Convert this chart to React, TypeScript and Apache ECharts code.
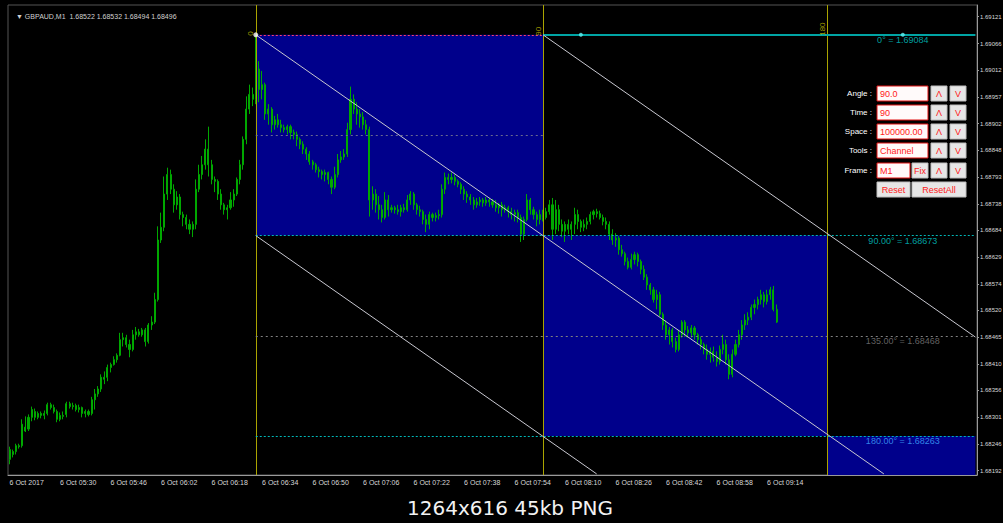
import React, { useEffect, useRef } from "react";
import * as echarts from "echarts";

// ---------- data ----------
const chartTitle = "\u25BC GBPAUD,M1  1.68522 1.68532 1.68494 1.68496";
const footerText = "1264x616 45kb PNG";

// x axis: one slot per M1 bar (including empty future slots)
const SLOT_COUNT = 307;
const LABEL_EVERY = 16;
const timeLabels = [
  "6 Oct 2017", "6 Oct 05:30", "6 Oct 05:46", "6 Oct 06:02", "6 Oct 06:18", "6 Oct 06:34",
  "6 Oct 06:50", "6 Oct 07:06", "6 Oct 07:22", "6 Oct 07:38", "6 Oct 07:54", "6 Oct 08:10",
  "6 Oct 08:26", "6 Oct 08:42", "6 Oct 08:58", "6 Oct 09:14",
];

// price axis
const Y_MIN = 1.68183;
const Y_MAX = 1.69145;
const priceTicks = [
  1.69121, 1.69066, 1.69012, 1.68957, 1.68902, 1.68848, 1.68793, 1.68738, 1.68684,
  1.68629, 1.68574, 1.6852, 1.68465, 1.6841, 1.68356, 1.68301, 1.68246, 1.68192,
];

// bars: [open, close, low, high]
const ohlc: number[][] = [
  [1.68215,1.68235,1.68205,1.68241],[1.68231,1.68225,1.68219,1.68235],[1.68231,1.68243,1.68225,1.68247],[1.68243,1.68241,1.68237,1.68247],
  [1.68243,1.68287,1.68239,1.68297],[1.68281,1.68273,1.68271,1.68303],[1.68277,1.68301,1.68273,1.68307],[1.68301,1.68317,1.68293,1.68323],
  [1.68313,1.68301,1.68295,1.68319],[1.68301,1.68309,1.68297,1.68313],[1.68309,1.68305,1.68299,1.68313],[1.68305,1.68309,1.68297,1.68315],
  [1.68309,1.68327,1.68305,1.68331],[1.68327,1.68321,1.68317,1.68331],[1.68321,1.68313,1.68309,1.68327],[1.68313,1.68297,1.68291,1.68317],
  [1.68297,1.68305,1.68293,1.68311],[1.68305,1.68303,1.68297,1.68313],[1.68307,1.68329,1.68301,1.68333],[1.68329,1.68323,1.68319,1.68333],
  [1.68323,1.68325,1.68317,1.68331],[1.68325,1.68317,1.68313,1.68329],[1.68317,1.68321,1.68311,1.68327],[1.68321,1.68309,1.68301,1.68323],
  [1.68309,1.68313,1.68301,1.68317],[1.68313,1.68307,1.68303,1.68317],[1.68309,1.68337,1.68305,1.68343],[1.68337,1.68349,1.68317,1.68359],
  [1.68349,1.68359,1.68343,1.68365],[1.68359,1.68383,1.68353,1.68389],[1.68383,1.68379,1.68369,1.68395],[1.68383,1.68403,1.68375,1.68409],
  [1.68403,1.68409,1.68393,1.68413],[1.68409,1.68419,1.68407,1.68426],[1.68419,1.68428,1.68413,1.68432],[1.68428,1.6846,1.68426,1.68474],
  [1.6846,1.68464,1.68446,1.68474],[1.68464,1.6845,1.68444,1.6847],[1.6845,1.6844,1.68424,1.6846],[1.6844,1.6847,1.68436,1.6848],
  [1.6847,1.68476,1.6846,1.68486],[1.68476,1.6847,1.68466,1.68482],[1.6847,1.6848,1.68466,1.68484],[1.6848,1.68456,1.68446,1.68484],
  [1.68456,1.6849,1.68452,1.68494],[1.6849,1.68496,1.6848,1.68508],[1.68496,1.68542,1.68492,1.68556],[1.68542,1.68664,1.68538,1.68692],
  [1.68664,1.6869,1.68658,1.6872],[1.6869,1.68758,1.68682,1.68794],[1.68758,1.68798,1.68746,1.68812],[1.68798,1.68768,1.68758,1.68808],
  [1.68768,1.68736,1.6872,1.68778],[1.68736,1.68752,1.68726,1.68764],[1.68752,1.68716,1.68706,1.68758],[1.68716,1.6871,1.68692,1.68722],
  [1.6871,1.68696,1.68686,1.68716],[1.68696,1.68686,1.68676,1.68706],[1.68686,1.68696,1.6867,1.68702],[1.68696,1.68768,1.68686,1.68788],
  [1.68768,1.68798,1.68762,1.68818],[1.68798,1.68818,1.68788,1.68836],[1.68818,1.6885,1.68808,1.6887],[1.6885,1.68818,1.68794,1.68896],
  [1.68818,1.68788,1.68778,1.68828],[1.68788,1.68784,1.68762,1.68794],[1.68784,1.68758,1.68746,1.68788],[1.68758,1.68736,1.68726,1.68768],
  [1.68736,1.68726,1.68716,1.6874],[1.68726,1.6873,1.68706,1.68736],[1.6873,1.68746,1.68726,1.68762],[1.68746,1.68758,1.68732,1.68768],
  [1.68758,1.68788,1.68754,1.68792],[1.68788,1.68818,1.68778,1.68828],[1.68818,1.6887,1.68808,1.68876],[1.6887,1.68932,1.6886,1.68958],
  [1.68932,1.68962,1.68922,1.68982],[1.68962,1.68952,1.68938,1.68976],[1.68952,1.69014,1.68942,1.69084],[1.69014,1.68972,1.68946,1.6903],
  [1.68972,1.68982,1.68952,1.6901],[1.68982,1.68922,1.6891,1.68986],[1.68922,1.68932,1.689,1.68942],[1.68932,1.689,1.68884,1.68936],
  [1.689,1.6891,1.6889,1.68918],[1.6891,1.689,1.68894,1.68922],[1.689,1.68894,1.68884,1.6891],[1.68894,1.6889,1.68884,1.689],
  [1.6889,1.68896,1.6888,1.689],[1.68896,1.68884,1.6887,1.689],[1.68884,1.6888,1.6887,1.6889],[1.6888,1.6887,1.68856,1.68886],
  [1.6887,1.6886,1.6885,1.68874],[1.6886,1.6885,1.6884,1.68866],[1.6885,1.6884,1.68828,1.68854],[1.6884,1.68824,1.68818,1.68846],
  [1.68824,1.68818,1.68808,1.68828],[1.68818,1.68808,1.68802,1.68822],[1.68808,1.68804,1.68792,1.68814],[1.68804,1.68798,1.68788,1.68808],
  [1.68798,1.68802,1.68784,1.68808],[1.68802,1.68788,1.68778,1.68804],[1.68788,1.68772,1.68758,1.68794],[1.68772,1.68798,1.68768,1.68814],
  [1.68798,1.68828,1.68792,1.6884],[1.68828,1.68834,1.68822,1.68846],[1.68834,1.6884,1.68828,1.6885],[1.6884,1.6889,1.68834,1.68904],
  [1.6889,1.68952,1.6888,1.68978],[1.68952,1.68932,1.68922,1.68962],[1.68932,1.68922,1.689,1.68946],[1.68922,1.68916,1.68894,1.68932],
  [1.68916,1.689,1.6889,1.68926],[1.689,1.6889,1.6888,1.6891],[1.6889,1.68746,1.68712,1.68896],[1.68746,1.68758,1.68726,1.68774],
  [1.68758,1.68736,1.6872,1.68768],[1.68736,1.68726,1.68706,1.68754],[1.68726,1.6871,1.687,1.68736],[1.6871,1.68746,1.68706,1.68762],
  [1.68746,1.68726,1.68712,1.68756],[1.68726,1.6873,1.6872,1.68736],[1.6873,1.68726,1.68718,1.68734],[1.68726,1.68722,1.68716,1.68736],
  [1.68722,1.6873,1.68712,1.68736],[1.6873,1.68726,1.6872,1.68738],[1.68726,1.68746,1.68722,1.68756],[1.68746,1.68758,1.68736,1.68764],
  [1.68758,1.68736,1.68726,1.68762],[1.68736,1.68726,1.68716,1.6874],[1.68726,1.68722,1.68712,1.68734],[1.68722,1.68706,1.68696,1.68726],
  [1.68706,1.68696,1.6868,1.68716],[1.68696,1.68716,1.68686,1.68722],[1.68716,1.6871,1.68702,1.6872],[1.6871,1.68714,1.68702,1.6872],
  [1.68714,1.68716,1.68706,1.68726],[1.68716,1.68768,1.6871,1.68778],[1.68768,1.68792,1.68758,1.68802],[1.68792,1.68788,1.68778,1.688],
  [1.68788,1.68792,1.6878,1.68802],[1.68792,1.68784,1.68776,1.68798],[1.68784,1.68778,1.68772,1.68788],[1.68778,1.68768,1.68758,1.68782],
  [1.68768,1.68758,1.68746,1.68774],[1.68758,1.68752,1.6874,1.68764],[1.68752,1.68746,1.68736,1.68758],[1.68746,1.68736,1.68726,1.68752],
  [1.68736,1.68742,1.6873,1.6875],[1.68742,1.68746,1.68734,1.68752],[1.68746,1.6874,1.68732,1.6875],[1.6874,1.68746,1.68734,1.68752],
  [1.68746,1.68742,1.68732,1.6875],[1.68742,1.68736,1.6873,1.68748],[1.68736,1.6873,1.68722,1.68746],[1.6873,1.68736,1.68718,1.6874],
  [1.68736,1.68726,1.68712,1.68742],[1.68726,1.6873,1.6872,1.68736],[1.6873,1.68722,1.6871,1.68734],[1.68722,1.68716,1.68706,1.6873],
  [1.68716,1.6872,1.68702,1.68726],[1.6872,1.6871,1.687,1.68726],[1.6871,1.68676,1.6866,1.68716],[1.68676,1.68706,1.68664,1.68712],
  [1.68706,1.68746,1.68702,1.68758],[1.68746,1.68726,1.68716,1.6875],[1.68726,1.68716,1.68706,1.68732],[1.68716,1.68706,1.68692,1.68722],
  [1.68706,1.68716,1.68696,1.68726],[1.68716,1.6871,1.68702,1.68726],[1.6871,1.68722,1.68706,1.6873],[1.68722,1.68736,1.68716,1.68746],
  [1.68736,1.68686,1.68664,1.6875],[1.68686,1.68726,1.68676,1.68746],[1.68726,1.68696,1.68682,1.68736],[1.68696,1.68682,1.6867,1.68706],
  [1.68682,1.68696,1.6866,1.68702],[1.68696,1.68686,1.68676,1.68706],[1.68686,1.68696,1.68664,1.68702],[1.68696,1.68716,1.68676,1.6873],
  [1.68716,1.68702,1.68686,1.68726],[1.68702,1.6869,1.6868,1.68706],[1.6869,1.68696,1.68682,1.68706],[1.68696,1.68702,1.68686,1.6871],
  [1.68702,1.68716,1.68696,1.68722],[1.68716,1.68722,1.68706,1.68726],[1.68722,1.68718,1.6871,1.68728],[1.68718,1.6871,1.68706,1.68724],
  [1.6871,1.68702,1.68694,1.68716],[1.68702,1.68696,1.68686,1.6871],[1.68696,1.68676,1.68664,1.68702],[1.68676,1.68664,1.68654,1.68686],
  [1.68664,1.68668,1.6865,1.68678],[1.68668,1.68644,1.68634,1.68672],[1.68644,1.68636,1.6863,1.68654],[1.68636,1.6862,1.68612,1.6864],
  [1.6862,1.68608,1.68604,1.68628],[1.68608,1.68624,1.68604,1.68636],[1.68624,1.68634,1.68614,1.6864],[1.68634,1.6862,1.6861,1.68638],
  [1.6862,1.68604,1.68594,1.68624],[1.68604,1.68588,1.68582,1.68612],[1.68588,1.68572,1.68562,1.68594],[1.68572,1.68562,1.68552,1.68576],
  [1.68562,1.68542,1.68536,1.68568],[1.68542,1.68552,1.68522,1.68562],[1.68552,1.68512,1.68508,1.68558],[1.68512,1.6849,1.6848,1.68516],
  [1.6849,1.6847,1.6846,1.685],[1.6847,1.6848,1.6845,1.68486],[1.6848,1.68456,1.68444,1.68484],[1.68456,1.6844,1.68434,1.68464],
  [1.6844,1.6847,1.68436,1.6848],[1.6847,1.68496,1.68464,1.685],[1.68496,1.6848,1.68466,1.685],[1.6848,1.68474,1.68464,1.68488],
  [1.68474,1.68484,1.68464,1.6849],[1.68484,1.6847,1.6846,1.68488],[1.6847,1.6846,1.6845,1.68474],[1.6846,1.6845,1.6844,1.68466],
  [1.6845,1.6844,1.6843,1.68454],[1.6844,1.6843,1.68419,1.6845],[1.6843,1.68436,1.68413,1.68444],[1.68436,1.68424,1.68415,1.68446],
  [1.68424,1.68415,1.68405,1.68436],[1.68415,1.6844,1.68409,1.68448],[1.6844,1.6845,1.6843,1.6847],[1.6845,1.68419,1.68409,1.6846],
  [1.68419,1.68389,1.68379,1.6843],[1.68389,1.6843,1.68383,1.6844],[1.6843,1.6845,1.68426,1.6846],[1.6845,1.6847,1.68444,1.6848],
  [1.6847,1.6849,1.6846,1.685],[1.6849,1.685,1.6848,1.68512],[1.685,1.68506,1.6849,1.68516],[1.68506,1.68526,1.685,1.68532],
  [1.68526,1.68532,1.68512,1.68542],[1.68532,1.68542,1.68522,1.68548],[1.68542,1.68552,1.68532,1.68562],[1.68552,1.68538,1.68526,1.68558],
  [1.68538,1.68552,1.68532,1.68562],[1.68552,1.68562,1.68542,1.68568],[1.68562,1.68522,1.68518,1.6857],[1.68522,1.68496,1.68494,1.68532],
];

// channel tool: level prices (0°, 45°, 90°, 135°, 180°) and time anchors (bar slots)
const levelPrices = [1.69084, 1.68878, 1.68673, 1.68468, 1.68263];
const levelTexts = ["0\u00B0 = 1.69084", "", "90.00\u00B0 = 1.68673", "135.00\u00B0 = 1.68468", "180.00\u00B0 = 1.68263"];
const timeMarks = [78, 169, 259];
const timeMarkTexts = ["0", "90", "180"];
const LAST_SLOT = SLOT_COUNT - 1;
const levelLabelSlot = 283;
const dotSlots = [181, 283];

// panel
const panelRows = [
  { label: "Angle :", value: "90.0" },
  { label: "Time :", value: "90" },
  { label: "Space :", value: "100000.00" },
  { label: "Tools :", value: "Channel" },
  { label: "Frame :", value: "M1" },
];

// ---------- colours ----------
const C = {
  bg: "#000000",
  bar: "#00a800",
  zone: "#00008b",
  axis: "#9a9a9a",
  axisText: "#d8d8d8",
  yellow: "#aaa400",
  diag: "#c8c8d0",
  cyan: "#00b8b8",
  cyanSolid: "#00a4a4",
  grayDot: "#808080",
  redDot: "#ff4070",
  price: "#a8a8b8",
};

const FONT = "'Liberation Sans', Arial, sans-serif";

function buildOption() {
  const categories = Array.from({ length: SLOT_COUNT }, (_, i) => String(i));
  const P = levelPrices;
  const slope = (P[2] - P[0]) / (timeMarks[1] - timeMarks[0]); // price per bar (negative)
  const mainSteps = Math.floor((P[0] - Y_MIN) / -slope);
  const lowerSteps = Math.floor((P[2] - Y_MIN) / -slope);
  const upperSteps = LAST_SLOT - timeMarks[1];

  const hLine = (price: number, from: number, to: number, color: string, type: any, width = 1) => [
    { coord: [from, price], lineStyle: { color, type, width } },
    { coord: [to, price] },
  ];
  const seg = (x1: number, y1: number, x2: number, y2: number, color: string, type: any = "solid", width = 1) => [
    { coord: [x1, y1], lineStyle: { color, type, width } },
    { coord: [x2, y2] },
  ];

  const lineData: any[] = [
    ...timeMarks.map((t) => seg(t, Y_MIN, t, Y_MAX, C.yellow)),
    hLine(P[0], timeMarks[0], timeMarks[1], C.redDot, [2, 2]),
    hLine(P[0], timeMarks[1], LAST_SLOT, C.cyanSolid, "solid", 2),
    hLine(P[1], timeMarks[0], timeMarks[1], "#6a6a90", [2, 3]),
    hLine(P[2], timeMarks[0], LAST_SLOT, C.cyan, [2, 2]),
    hLine(P[3], timeMarks[0], LAST_SLOT, C.grayDot, [2, 3]),
    hLine(P[4], timeMarks[0], LAST_SLOT, C.cyan, [2, 2]),
    seg(timeMarks[0], P[0], timeMarks[0] + mainSteps, P[0] + slope * mainSteps, C.diag),
    seg(timeMarks[1], P[0], timeMarks[1] + upperSteps, P[0] + slope * upperSteps, C.diag),
    seg(timeMarks[0], P[2], timeMarks[0] + lowerSteps, P[2] + slope * lowerSteps, C.diag),
    {
      yAxis: ohlc[ohlc.length - 1][1],
      lineStyle: { color: C.price, type: "solid", width: 1 },
      label: {
        show: true,
        position: "end",
        distance: 1,
        formatter: ohlc[ohlc.length - 1][1].toFixed(5),
        backgroundColor: "#ffffff",
        color: "#000000",
        fontSize: 6,
        fontFamily: FONT,
        padding: [1, 1, 0, 1],
      },
    },
  ];

  const textColors = ["#00c8c8", "", "#00c8c8", "#7c7c7c", "#40a8ff"];
  const labelData: any[] = [];
  levelTexts.forEach((t, i) => {
    if (!t) return;
    labelData.push({
      value: [levelLabelSlot, levelPrices[i]],
      symbolSize: 0.1,
      itemStyle: { color: "rgba(0,0,0,0)" },
      label: { show: true, formatter: t, position: "bottom", distance: 1, color: textColors[i], fontSize: 9, fontFamily: FONT },
    });
  });
  timeMarks.forEach((t, i) => {
    labelData.push({
      value: [t, levelPrices[0]],
      symbolSize: 0.1,
      itemStyle: { color: "rgba(0,0,0,0)" },
      label: {
        show: true, formatter: timeMarkTexts[i], position: "inside", rotate: 90,
        align: "left", verticalAlign: "bottom", offset: [-1, -1],
        color: "#c8c000", fontSize: 8, fontFamily: FONT,
      },
    });
  });
  labelData.push({ value: [timeMarks[0], levelPrices[0]], symbolSize: 5, itemStyle: { color: "#ffffff" }, label: { show: false } });
  dotSlots.forEach((s) =>
    labelData.push({ value: [s, levelPrices[0]], symbolSize: 4, itemStyle: { color: "#60f0f0" }, label: { show: false } })
  );

  const panel: any[] = [];
  const rowTop = [86, 105, 124, 143, 163];
  const red = "#ff2020";
  const btn = (x: number, y: number, w: number, text: string, input = false) => ({
    type: "group",
    children: [
      {
        type: "rect",
        shape: { x, y, width: w, height: 15 },
        style: { fill: input ? "#fffafa" : "#e6e6e6", stroke: input ? "#e01010" : "#bdbdbd", lineWidth: 1 },
      },
      {
        type: "text",
        style: {
          text, x: input ? x + 3 : x + w / 2, y: y + 8, align: input ? "left" : "center", verticalAlign: "middle",
          fill: red, fontSize: 9, fontFamily: FONT,
        },
      },
    ],
  });
  panelRows.forEach((r, i) => {
    const y = rowTop[i];
    panel.push({
      type: "text",
      style: { text: r.label, x: 872, y: y + 7, align: "right", verticalAlign: "middle", fill: "#ffffff", fontSize: 8, fontFamily: FONT },
    });
    if (i === 4) {
      panel.push(btn(877, y, 33, r.value, true));
      panel.push(btn(912, y, 16, "Fix"));
    } else {
      panel.push(btn(877, y, 51, r.value, true));
    }
    panel.push(btn(931, y, 16, "\u039B"));
    panel.push(btn(950, y, 16, "V"));
  });
  panel.push(btn(877, 182, 33, "Reset"));
  panel.push(btn(912, 182, 54, "ResetAll"));
  panel.push({
    type: "text",
    style: {
      text: footerText, x: 510, y: 508, align: "center", verticalAlign: "middle",
      fill: "#f2f2f2", fontSize: 20, fontFamily: "'DejaVu Sans', sans-serif",
    },
  });

  return {
    animation: false,
    backgroundColor: C.bg,
    title: {
      text: chartTitle,
      left: 11,
      top: 8,
      textStyle: { color: "#d0d0d0", fontSize: 7, fontWeight: "normal", fontFamily: FONT },
    },
    grid: {
      left: 8, right: 26, top: 5, bottom: 48,
      show: true, borderColor: "#555555", borderWidth: 1,
      containLabel: false, outerBoundsMode: "none",
    },
    xAxis: {
      type: "category",
      data: categories,
      boundaryGap: true,
      axisLine: { lineStyle: { color: C.axis } },
      axisTick: {
        alignWithLabel: true,
        length: 3,
        interval: (idx: number) => idx % LABEL_EVERY === 0 && idx / LABEL_EVERY < timeLabels.length,
        lineStyle: { color: C.axis },
      },
      axisLabel: {
        interval: (idx: number) => idx % LABEL_EVERY === 0 && idx / LABEL_EVERY < timeLabels.length,
        formatter: (_v: string, idx: number) => timeLabels[idx / LABEL_EVERY] ?? "",
        align: "left",
        margin: 4,
        color: C.axisText,
        fontSize: 7,
        fontFamily: FONT,
      },
      splitLine: { show: false },
    },
    yAxis: {
      type: "value",
      position: "right",
      min: Y_MIN,
      max: Y_MAX,
      axisLine: { show: true, lineStyle: { color: C.axis } },
      axisTick: { show: true, customValues: priceTicks, length: 2, lineStyle: { color: C.axis } },
      axisLabel: {
        customValues: priceTicks,
        formatter: (v: number) => v.toFixed(5),
        color: C.axisText,
        fontSize: 6,
        margin: 3,
        fontFamily: FONT,
      },
      splitLine: { show: false },
    },
    series: [
      {
        name: "zones",
        type: "line",
        data: [],
        silent: true,
        markArea: {
          silent: true,
          itemStyle: { color: C.zone },
          data: [
            [{ coord: [timeMarks[0], P[0]] }, { coord: [timeMarks[1], P[2]] }],
            [{ coord: [timeMarks[1], P[2]] }, { coord: [timeMarks[2], P[4]] }],
            [{ coord: [timeMarks[2], P[4]] }, { coord: [LAST_SLOT, Y_MIN] }],
          ],
        },
      },
      {
        name: "GBPAUD",
        type: "candlestick",
        data: ohlc,
        barMaxWidth: 2,
        silent: true,
        itemStyle: { color: C.bar, color0: C.bar, borderColor: C.bar, borderColor0: C.bar, borderWidth: 1 },
      },
      {
        name: "tool",
        type: "line",
        data: [],
        silent: true,
        markLine: {
          silent: true,
          symbol: ["none", "none"],
          label: { show: false },
          emphasis: { disabled: true },
          data: lineData,
        },
      },
      {
        name: "labels",
        type: "scatter",
        data: labelData,
        silent: true,
        z: 6,
      },
    ],
    graphic: panel,
  };
}

export default function App() {
  const ref = useRef<HTMLDivElement>(null);
  useEffect(() => {
    const chart = echarts.init(ref.current!, null, { renderer: "svg" });
    chart.setOption(buildOption() as any);
    return () => chart.dispose();
  }, []);
  return (
    <div
      ref={ref}
      style={{ position: "fixed", left: 0, top: 0, width: 1003, height: 523, background: "#000" }}
    />
  );
}
